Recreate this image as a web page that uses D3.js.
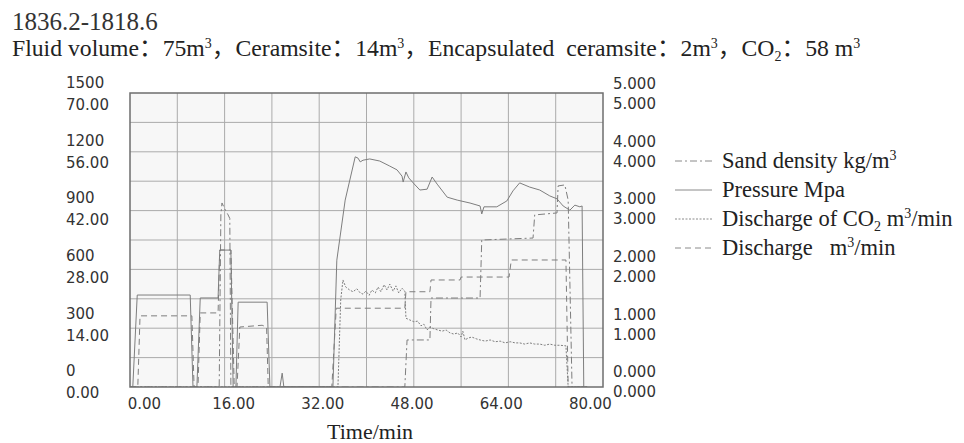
<!DOCTYPE html>
<html>
<head>
<meta charset="utf-8">
<script src="https://cdn.jsdelivr.net/npm/d3@7"></script>
<style>
  body { margin: 0; background: #fff; }
  text { white-space: pre; }
</style>
</head>
<body>
<div id="chart"></div>
<script>
// time in minutes
const timeTicks = [0, 16, 32, 48, 64, 80]
const sandTicks = [0, 300, 600, 900, 1200, 1500]
const pressureTicks = [0, 14, 28, 42, 56, 70]
const dischargeTicks = [0, 1, 2, 3, 4, 5]

// kg/m3
const sandDensity = [[-2.5,0],[13.5,0],[13.8,878],[14.0,939],[14.6,903],[15.1,878],[15.4,860],[15.6,0],
  [46.8,0],[47.2,240],[51.3,240],[51.5,454],[60.3,454],[60.6,750],[69.8,760],[70.1,878],[74.1,888],
  [74.3,1026],[75.5,1031],[76.1,954],[76.8,0],[79.5,0]]

// MPa
const pressure = [[-2.5,0],[-2.0,0],[-1.2,21.9],[8.3,21.9],[8.8,0],[9.5,0],[10.1,21.2],[13.3,21.2],
  [13.6,32.6],[15.6,32.6],[16.0,0],[16.5,0],[16.9,20.2],[22.1,20.2],[22.6,0],[24.4,0],[24.8,3.3],[25.1,0],
  [33.9,0],[34.6,30.2],[36.1,44.5],[37.9,54.8],[38.4,54.5],[38.8,53.6],[39.3,54.0],[40.5,54.3],[42.3,53.8],
  [44.1,52.6],[45.4,51.7],[46.3,50.2],[46.5,48.8],[47.0,51.2],[47.5,49.8],[48.3,48.6],[49.5,46.9],[50.8,47.1],
  [51.7,50.0],[52.6,48.3],[54.4,45.2],[56.2,44.5],[58.5,43.8],[60.3,43.1],[60.6,41.2],[61.0,42.9],[63.3,42.9],
  [65.1,44.3],[66.2,46.7],[67.4,48.6],[69.2,47.6],[71.0,46.9],[72.8,45.5],[74.1,44.8],[75.2,43.1],[76.4,42.1],
  [77.3,43.3],[78.2,42.9],[78.6,43.1],[78.9,0],[79.5,0]]

// m3/min
const dischargeCO2 = [[-2.5,0],[33.9,0],[34.8,0],[35.3,1.48],[35.7,1.82],[36.2,1.70],[36.9,1.65],[37.5,1.62],
  [38.2,1.67],[38.8,1.60],[39.3,1.58],[39.8,1.63],[40.4,1.56],[40.9,1.65],[41.5,1.60],[42.0,1.70],[42.5,1.62],
  [43.1,1.74],[43.6,1.65],[44.1,1.75],[44.7,1.63],[45.2,1.72],[45.7,1.60],[46.3,1.68],[46.8,1.63],[47.0,1.17],
  [47.7,1.14],[48.4,1.11],[49.1,1.12],[49.7,1.04],[50.2,1.07],[50.8,0.97],[51.3,1.02],[52.0,0.99],[52.7,0.97],
  [53.5,0.95],[54.2,0.97],[54.9,0.92],[55.6,0.90],[56.3,0.92],[56.9,0.85],[57.2,0.95],[57.6,0.80],[58.1,0.83],
  [58.8,0.85],[59.6,0.82],[60.3,0.80],[61.2,0.78],[62.1,0.80],[63.0,0.77],[63.9,0.78],[64.8,0.75],[65.7,0.77],
  [66.6,0.75],[67.4,0.75],[68.3,0.73],[69.2,0.75],[70.1,0.73],[71.0,0.73],[71.9,0.71],[72.8,0.73],[73.7,0.71],
  [74.6,0.71],[75.7,0.70],[76.1,0],[79.5,0]]

// m3/min
const discharge = [[-2.5,0],[-1.1,0],[-0.7,1.21],[8.6,1.21],[9.0,0],[9.7,0],[10.1,1.26],[13.3,1.26],
  [13.6,2.33],[15.6,2.33],[16.2,0],[16.7,0],[17.2,1.02],[21.2,1.05],[22.0,1.02],[22.3,0],[33.7,0],
  [34.5,1.34],[46.8,1.34],[47.0,1.62],[51.3,1.62],[51.5,1.82],[56.7,1.82],[56.9,1.87],[65.5,1.87],
  [65.9,2.16],[75.7,2.16],[76.1,0],[79.5,0]]

// each legend entry: pieces of text, 'sup' / 'sub' marks small raised or lowered pieces
const legendNames = [
  [['Sand density kg/m'], ['3', 'sup']],
  [['Pressure Mpa']],
  [['Discharge of CO'], ['2', 'sub'], [' m'], ['3', 'sup'], ['/min']],
  [['Discharge   m'], ['3', 'sup'], ['/min']]
]
const subtitle = [['Fluid volume：75m'], ['3', 'sup'], ['，Ceramsite：14m'], ['3', 'sup'],
  ['，Encapsulated  ceramsite：2m'], ['3', 'sup'], ['，CO'], ['2', 'sub'], ['：58 m'], ['3', 'sup']]

let W = 964, H = 443
let plot = {left: 130, right: 603, top: 93, bottom: 387}
let serif = 'Liberation Serif, Noto Sans CJK SC, serif'
let sans = 'DejaVu Sans, sans-serif'

let svg = d3.select('#chart').append('svg')
            .attr('width', W)
            .attr('height', H)

// write pieces with small raised/lowered numbers, back to baseline after each
function richText(el, pieces, small) {
  let shift = 0
  pieces.forEach(p => {
    let target = p[1] === 'sup' ? -8 : p[1] === 'sub' ? 5 : 0
    let t = el.append('tspan').attr('dy', target - shift).text(p[0])
    if (p[1]) t.attr('font-size', small)
    shift = target
  })
}

// title
svg.append('text')
   .attr('x', 12).attr('y', 30)
   .attr('font-family', serif).attr('font-size', 25).attr('fill', '#333')
   .text('1836.2-1818.6')

let sub = svg.append('text')
   .attr('x', 12).attr('y', 56)
   .attr('font-family', serif).attr('font-size', 23.7).attr('fill', '#222')
richText(sub, subtitle, 14)

let x = d3.scaleLinear().domain([-2.5, 82.35]).range([plot.left, plot.right])
let ySand = d3.scaleLinear().domain([0, 1500]).range([plot.bottom, plot.top])
let yPress = d3.scaleLinear().domain([0, 70]).range([plot.bottom, plot.top])
let yQ = d3.scaleLinear().domain([0, 5]).range([plot.bottom, plot.top])
// tick labels sit a little apart from the grid
let labelY = d3.scaleLinear().domain([0, 5]).range([382, 94])

// plot area and grid
svg.append('rect')
   .attr('x', plot.left).attr('y', plot.top)
   .attr('width', plot.right - plot.left).attr('height', plot.bottom - plot.top)
   .attr('fill', '#f7f7f7')

let grid = svg.append('g').attr('stroke', '#ababab').attr('stroke-width', 1)
d3.range(1, 10).forEach(i => {
  let gx = plot.left + i * (plot.right - plot.left) / 10
  let gy = plot.top + i * (plot.bottom - plot.top) / 10
  grid.append('line').attr('x1', gx).attr('x2', gx).attr('y1', plot.top).attr('y2', plot.bottom)
  grid.append('line').attr('x1', plot.left).attr('x2', plot.right).attr('y1', gy).attr('y2', gy)
})

// series
let series = [
  {data: sandDensity, y: ySand, dash: '7,3,2,3'},
  {data: pressure, y: yPress, dash: null},
  {data: dischargeCO2, y: yQ, dash: '2,1.5'},
  {data: discharge, y: yQ, dash: '6,4'}
]
svg.append('clipPath').attr('id', 'clip').append('rect')
   .attr('x', plot.left).attr('y', plot.top)
   .attr('width', plot.right - plot.left).attr('height', plot.bottom - plot.top)

series.forEach(s => {
  let line = d3.line().x(d => x(d[0])).y(d => s.y(d[1]))
  svg.append('path')
     .datum(s.data)
     .attr('clip-path', 'url(#clip)')
     .attr('fill', 'none')
     .attr('stroke', '#7e7e7e')
     .attr('stroke-width', 1)
     .attr('stroke-dasharray', s.dash)
     .attr('d', line)
})

svg.append('rect')
   .attr('x', plot.left).attr('y', plot.top)
   .attr('width', plot.right - plot.left).attr('height', plot.bottom - plot.top)
   .attr('fill', 'none').attr('stroke', '#6e6e6e').attr('stroke-width', 1.5)

// x axis
let xAxis = d3.axisBottom(x).tickValues(timeTicks).tickFormat(d3.format('.2f')).tickSize(0).tickPadding(0)
let gx = svg.append('g')
   .attr('transform', 'translate(0,' + 409 + ')')
   .call(xAxis)
gx.select('.domain').remove()
gx.selectAll('text').attr('font-family', sans).attr('font-size', 15).attr('fill', '#333').attr('dy', 0)

svg.append('text')
   .attr('x', 370).attr('y', 439)
   .attr('text-anchor', 'middle')
   .attr('font-family', serif).attr('font-size', 22).attr('fill', '#222')
   .text('Time/min')

// left labels: sand density above, pressure below
let left = svg.append('g').attr('font-family', sans).attr('font-size', 15).attr('fill', '#333')
sandTicks.forEach((v, i) => {
  left.append('text').attr('x', 66).attr('y', labelY(i) - 11).attr('dy', '0.35em').text(v)
})
pressureTicks.forEach((v, i) => {
  left.append('text').attr('x', 66).attr('y', labelY(i) + 11).attr('dy', '0.35em').text(d3.format('.2f')(v))
})

// right labels, two discharge scales
let right = svg.append('g').attr('font-family', sans).attr('font-size', 15).attr('fill', '#333')
dischargeTicks.forEach((v, i) => {
  right.append('text').attr('x', 613).attr('y', labelY(i) - 10).attr('dy', '0.35em').text(d3.format('.3f')(v))
  right.append('text').attr('x', 613).attr('y', labelY(i) + 10).attr('dy', '0.35em').text(d3.format('.3f')(v))
})

// legend
let legend = svg.append('g')
legendNames.forEach((pieces, i) => {
  let ly = 161 + i * 29
  legend.append('line')
     .attr('x1', 675).attr('x2', 712).attr('y1', ly).attr('y2', ly)
     .attr('stroke', '#8a8a8a').attr('stroke-width', 1)
     .attr('stroke-dasharray', series[i].dash)
  let t = legend.append('text')
     .attr('x', 722).attr('y', ly + 7)
     .attr('font-family', serif).attr('font-size', 22.5).attr('fill', '#222')
  richText(t, pieces, 14)
})
</script>
</body>
</html>
